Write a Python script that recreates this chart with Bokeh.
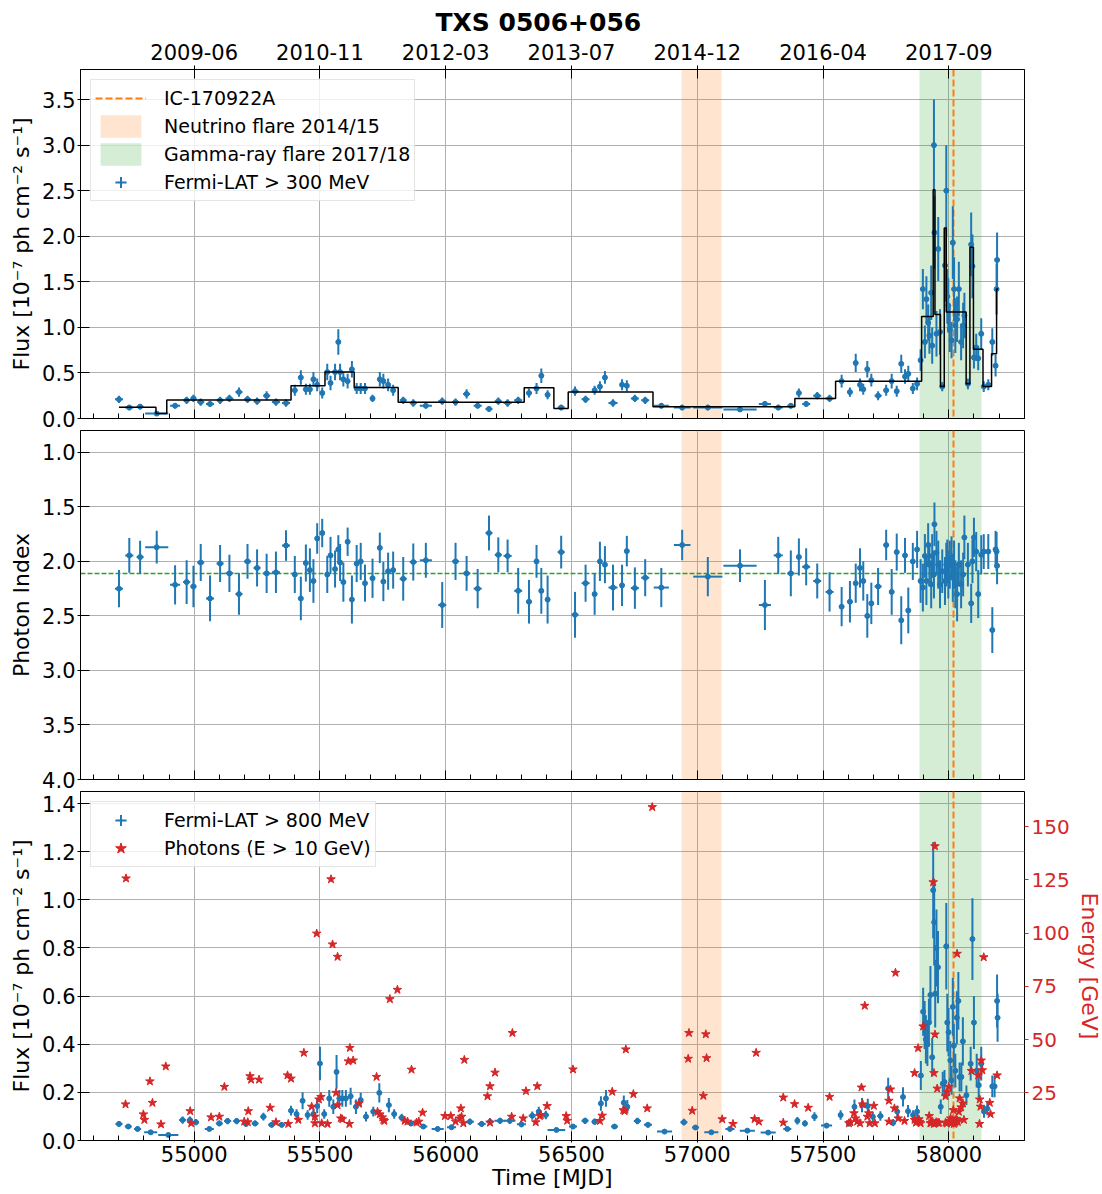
import numpy as np
from bokeh.plotting import figure
from bokeh.models import (Range1d, LinearAxis, FixedTicker, SingleIntervalTicker,
                          PrintfTickFormatter, Legend, LegendItem, ColumnDataSource)
from bokeh.layouts import column
from bokeh.embed import file_html
from bokeh.resources import INLINE

FONT = "DejaVu Sans"
BLUE = "#1f77b4"; ORANGE = "#ff7f0e"; GREEN = "#2ca02c"; RED = "#d62728"

# ---------------- data ----------------
title = "TXS 0506+056"
x_ticks = [55000, 55500, 56000, 56500, 57000, 57500, 58000]
date_labels = ["2009-06", "2010-11", "2012-03", "2013-07", "2014-12", "2016-04", "2017-09"]
neutrino_flare = [56937.81, 57096.21]
gamma_flare = [57884.0, 58130.0]
ic_event = 58018.87
mean_index = 2.11

mjd_300 = [54701,54742,54785,54851,54924,54970,54997,55026,55063,55103,
           55140,55178,55212,55250,55288,55325,55365,55400,55424,55444,
           55460,55474,55489,55509,55529,55542,55560,55573,55580,55593,
           55610,55627,55646,55662,55679,55709,55738,55752,55771,55791,
           55831,55871,55921,55986,56039,56083,56127,56172,56209,56246,
           56288,56331,56361,56380,56405,
           56459,56514,56556,56592,56613,56633,56665,56701,56720,56752,
           56793,56857,56940,57042,57170,57269,57322,57372,57404,57433,
           57477,57526,57574,57607,57630,57647,57660,57676,57692,57719,
           57751,57773,57793,57811,57826,57839,57857,57874,
           57888,57897,57905,57911,57918,57923,57930,57934,57941,57943,
           57951,57958,57965,57974,57985,57990,57994,57998,58004,58011,
           58016,58021,58026,58033,58040,58049,58057,58062,58076,58089,
           58094,58100,58109,58117,58129,58139,58157,58173,58186,58190,
           58192]
xerr_300 = [16,16,14,46,20,14,12,14,16,14, 16,14,14,14,14,16,16,10,8,8,
            8,6,8,8,5,5,5,4,4,6, 6,5,8,8,8,10,6,6,6,8,
            14,14,24,16,14,14,16,14,14,16, 16,12,10,8,10,
            14,14,16,10,8,8,18,8,8,16, 16,30,33,58,66,24,18,14,6,16,
            16,16,10,10,4,5,6,5,6,14, 10,5,6,4,4,4,6,5,
            3,3,3,3,3,3,3,3,3,3, 3,3,3,4,3,3,3,3,3,3,
            3,3,3,3,3,3,3,3,4,3, 3,3,3,3,3,4,4,3,3,3, 3]
flux_300 = [0.21,0.12,0.13,0.054,0.14,0.20,0.22,0.18,0.16,0.20,
            0.22,0.29,0.21,0.19,0.25,0.18,0.17,0.31,0.45,0.32,
            0.32,0.43,0.37,0.28,0.51,0.39,0.51,0.84,0.51,0.43,
            0.41,0.54,0.33,0.33,0.33,0.22,0.43,0.41,0.37,0.31,
            0.20,0.17,0.14,0.19,0.18,0.27,0.14,0.105,0.19,0.17,
            0.20,0.28,0.33,0.47,0.26,
            0.12,0.30,0.21,0.31,0.35,0.45,0.17,0.37,0.36,0.22,
            0.20,0.14,0.12,0.12,0.10,0.16,0.12,0.14,0.28,0.16,
            0.25,0.22,0.41,0.29,0.61,0.37,0.32,0.54,0.42,0.25,
            0.31,0.41,0.30,0.60,0.46,0.49,0.33,0.38,
            0.64,1.42,0.84,1.31,1.05,0.91,1.38,0.80,3.00,2.04,
            0.93,1.86,0.95,0.35,1.68,2.50,1.34,1.24,0.98,0.86,
            1.93,1.42,1.02,1.09,1.42,0.84,1.02,1.13,0.38,1.91,
            1.67,0.67,0.78,0.66,0.93,0.35,0.37,0.84,0.58,1.42,
            1.74]
ferr_300 = [0.04,0.03,0.03,0.02,0.03,0.04,0.04,0.04,0.03,0.04,
            0.04,0.05,0.04,0.04,0.05,0.04,0.04,0.06,0.08,0.06,
            0.06,0.08,0.07,0.06,0.09,0.08,0.09,0.14,0.09,0.08,
            0.08,0.09,0.06,0.06,0.06,0.04,0.08,0.08,0.07,0.06,
            0.04,0.04,0.03,0.04,0.04,0.05,0.03,0.03,0.04,0.04,
            0.04,0.05,0.06,0.08,0.05,
            0.03,0.05,0.04,0.05,0.06,0.07,0.04,0.06,0.06,0.04,
            0.04,0.03,0.03,0.03,0.02,0.03,0.03,0.03,0.05,0.03,
            0.04,0.04,0.07,0.05,0.10,0.07,0.06,0.09,0.07,0.05,
            0.06,0.08,0.06,0.10,0.08,0.09,0.06,0.07,
            0.12,0.22,0.18,0.25,0.20,0.20,0.30,0.20,0.50,0.40,
            0.25,0.35,0.25,0.05,0.40,0.50,0.30,0.30,0.25,0.20,
            0.40,0.35,0.30,0.25,0.30,0.20,0.25,0.25,0.06,0.35,
            0.35,0.12,0.15,0.13,0.17,0.06,0.06,0.15,0.12,0.28,
            0.30]
index_300 = [2.25,1.945,1.96,1.87,2.215,2.19,2.23,2.01,2.34,2.02,
             2.11,2.30,2.0,2.06,2.11,2.10,1.855,2.12,2.34,2.015,
             2.08,2.18,1.79,1.74,2.12,1.945,2.07,1.89,2.01,2.19,
             1.82,2.35,2.02,2.0,2.2,2.155,1.876,2.185,2.09,2.08,
             2.16,2.006,1.99,2.40,2.0,2.11,2.25,1.74,1.94,1.95,
             2.27,2.37,2.0,2.27,2.35,
             1.915,2.49,2.2,2.30,2.0,2.03,2.24,2.22,1.906,2.245,
             2.15,2.24,1.85,2.14,2.04,2.40,1.945,2.11,1.96,2.05,
             2.18,2.28,2.415,2.37,2.2,2.06,2.18,2.5,2.385,2.23,
             1.85,2.28,1.915,2.54,1.945,2.45,2.0,1.89,
             2.18,2.24,1.95,2.18,1.85,2.03,2.21,1.95,2.12,1.66,
             1.92,2.03,2.21,2.09,2.18,2.03,2.0,2.12,2.03,1.97,
             2.15,2.03,2.21,2.3,2.03,2.21,2.12,1.78,2.03,2.385,
             2.0,1.78,1.91,2.3,1.94,1.91,1.91,2.63,1.89,1.91,
             2.04]
ierr_300 = [0.17,0.16,0.15,0.15,0.18,0.2,0.19,0.17,0.21,0.17,
            0.17,0.19,0.16,0.17,0.18,0.19,0.14,0.17,0.2,0.17,
            0.2,0.2,0.14,0.13,0.17,0.17,0.17,0.13,0.17,0.18,
            0.13,0.22,0.17,0.17,0.17,0.18,0.14,0.18,0.17,0.17,
            0.2,0.17,0.16,0.21,0.17,0.16,0.18,0.16,0.16,0.15,
            0.21,0.2,0.15,0.21,0.22,
            0.15,0.21,0.17,0.19,0.18,0.17,0.21,0.19,0.14,0.19,
            0.17,0.18,0.14,0.18,0.15,0.23,0.17,0.21,0.17,0.17,
            0.16,0.18,0.18,0.19,0.18,0.18,0.18,0.2,0.19,0.17,
            0.14,0.21,0.17,0.22,0.16,0.21,0.17,0.17,
            0.2,0.22,0.2,0.22,0.2,0.2,0.22,0.2,0.22,0.2,
            0.2,0.22,0.22,0.2,0.22,0.2,0.2,0.22,0.22,0.2,
            0.22,0.22,0.22,0.25,0.2,0.22,0.2,0.2,0.2,0.18,
            0.2,0.18,0.18,0.22,0.18,0.16,0.16,0.21,0.17,0.18,
            0.17]

bb_edges = [54701,54848,54891,55385,55520,55636,55811,56312,56430,56487,56824,
            57388,57550,57892,57938,57945,57967,57982,57990,58069,58084,58098,
            58136,58170,58190,58196]
bb_flux = [0.123,0.054,0.203,0.36,0.51,0.34,0.178,0.337,0.11,0.29,0.13,0.22,
           0.41,1.12,2.51,1.14,0.35,2.09,1.17,0.38,1.88,0.76,0.35,0.71,1.42]

mjd_800 = [54701,54738,54775,54827,54897,54954,54983,55007,55060,55100,
           55133,55169,55206,55242,55275,55308,55348,55385,55407,55431,
           55451,55474,55489,55500,55517,55537,55553,55566,55577,55589,
           55603,55622,55643,55662,55683,55712,55736,55774,55795,55825,
           55862,55911,55968,56023,56096,56143,56176,56216,56255,56301,
           56344,56370,56398,
           56440,56506,56554,56592,56617,56637,56671,56708,56722,56762,
           56804,56870,56947,56993,57056,57130,57199,57282,57358,57398,
           57428,57466,57514,57570,57603,57625,57655,57678,57698,57728,
           57759,57779,57795,57818,57838,57858,57874,
           57889,57898,57904,57909,57915,57921,57927,57934,57938,57942,
           57946,57951,57957,57968,57976,57983,57990,57994,57999,58006,
           58011,58016,58020,58026,58032,58038,58043,58050,58056,58070,
           58087,58094,58100,58111,58119,58129,58140,58153,58173,58182,
           58192,58194]
xerr_800 = [14,14,14,26,40,14,12,12,18,14, 14,14,14,14,12,14,14,10,8,6,
            8,6,6,4,8,5,6,4,4,4, 5,6,8,8,10,10,6,8,8,12,
            14,16,24,18,16,16,14,22,22,18, 14,10,12,
            35,16,14,12,6,6,14,6,6,14, 16,30,14,14,28,18,30,30,16,6,
            10,12,22,10,10,5,5,6,10,12, 5,6,6,5,5,6,6,
            4,3,3,3,3,3,3,3,3,3, 3,3,3,4,3,3,3,3,3,3,
            3,3,3,3,3,3,3,3,3,4, 3,3,3,3,3,3,5,5,4,4, 3,3]
flux_800 = [0.069,0.058,0.048,0.034,0.023,0.085,0.085,0.076,0.048,0.071,
            0.081,0.081,0.069,0.071,0.099,0.065,0.065,0.124,0.11,0.165,
            0.106,0.11,0.143,0.32,0.11,0.175,0.14,0.285,0.175,0.175,
            0.175,0.184,0.14,0.168,0.099,0.12,0.198,0.147,0.11,0.095,
            0.071,0.058,0.048,0.055,0.078,0.069,0.078,0.082,0.082,0.067,
            0.103,0.12,0.106,
            0.044,0.058,0.082,0.078,0.154,0.175,0.058,0.157,0.14,0.081,
            0.065,0.037,0.076,0.054,0.034,0.048,0.041,0.033,0.048,0.082,
            0.071,0.099,0.062,0.106,0.071,0.14,0.147,0.143,0.099,0.102,
            0.216,0.074,0.12,0.181,0.122,0.106,0.12,
            0.27,0.535,0.48,0.42,0.40,0.49,0.605,0.346,1.04,0.907,
            0.61,0.80,0.72,0.14,0.236,0.243,0.807,0.49,0.45,0.333,
            0.25,0.555,0.394,0.29,0.51,0.58,0.264,0.264,0.412,0.188,
            0.319,0.837,0.49,0.29,0.23,0.319,0.12,0.133,0.225,0.225,
            0.58,0.51]
ferr_800 = [0.012,0.01,0.01,0.008,0.006,0.015,0.015,0.013,0.01,0.012,
            0.013,0.013,0.012,0.012,0.016,0.011,0.011,0.02,0.02,0.035,
            0.02,0.02,0.03,0.07,0.02,0.035,0.03,0.07,0.035,0.035,
            0.035,0.035,0.03,0.03,0.02,0.02,0.04,0.03,0.02,0.016,
            0.012,0.01,0.01,0.01,0.013,0.012,0.013,0.013,0.013,0.012,
            0.017,0.02,0.018,
            0.008,0.01,0.013,0.013,0.03,0.035,0.01,0.03,0.028,0.014,
            0.011,0.007,0.014,0.01,0.007,0.009,0.008,0.007,0.009,0.016,
            0.013,0.018,0.011,0.02,0.013,0.03,0.03,0.03,0.02,0.02,
            0.045,0.015,0.025,0.04,0.025,0.02,0.025,
            0.06,0.1,0.1,0.1,0.09,0.1,0.12,0.08,0.2,0.18,
            0.14,0.16,0.15,0.03,0.05,0.05,0.18,0.12,0.1,0.08,
            0.06,0.12,0.09,0.07,0.11,0.12,0.06,0.06,0.1,0.04,
            0.07,0.17,0.11,0.07,0.05,0.07,0.025,0.028,0.045,0.045,
            0.11,0.1]

photon_mjd = [54729,54727,54798,54802,54824,54834,54868,54887,54984,54988,
              55067,55100,55120,55199,55213,55215,55222,55226,55258,55302,
              55325,55371,55385,55374,55414,55436,55467,55480,55480,55487,
              55496,55504,55507,55530,55544,55550,55564,55570,55570,55583,
              55589,55617,55619,55613,55632,55655,55725,55729,55738,55748,
              55752,55756,55778,55808,55837,55848,55864,55884,55893,55908,
              55997,56020,56039,56060,56056,56063,56070,56074,56166,56176,
              56176,56196,56262,56265,56308,56319,56358,56364,56374,56378,
              56403,
              56479,56483,56506,56613,56622,56662,56706,56711,56716,
              56746,56801,56821,56967,56964,56980,57024,57034,57037,57099,
              57142,57228,57234,57245,57342,57342,57387,57441,57526,57603,
              57609,57623,57629,57636,57647,57653,57658,57666,57676,57682,
              57685,57702,57706,57762,57762,57768,57784,57788,57799,57824,
              57864,57864,57872,57878,57881,57888,57898,57922,57927,57938,
              57941,57945,57945,57941,57954,57947,57961,57987,57994,58000,
              57987,58007,58010,58018,58020,58027,58033,58033,58040,58043,
              58049,58056,58060,58090,58117,58122,58123,58126,58129,58133,
              58139,58163,58166,58192,
              57870,57876,57884,57930,57935,57950,57957,57992,58003,58014,
              58024,58030,58036]
photon_energy = [125.7,19.6,14.9,12.3,30.4,20.3,10.2,37.4,16.4,10.7,
                 13.5,13.8,27.8,11.5,11.2,16.4,32.8,31.2,31.2,18.0,
                 11.2,33.2,31.7,10.4,12.3,43.8,18.5,13.8,10.7,99.8,
                 21.9,23.1,10.7,10.4,125.3,94.7,25.0,88.9,19.2,13.0,
                 12.6,10.4,46.1,39.8,40.2,20.0,32.5,16.1,14.9,13.5,
                 12.3,11.8,69.0,73.4,11.9,11.5,35.9,11.0,11.5,15.7,
                 14.1,14.1,11.5,17.7,13.0,13.8,10.7,40.5,23.4,28.1,
                 11.0,34.5,13.8,53.1,13.0,25.8,11.2,28.1,14.1,14.6,
                 18.8,
                 14.1,11.9,36.0,11.8,14.3,25.5,16.9,16.4,45.4,
                 24.4,17.7,159.2,53.1,41.0,16.6,23.6,52.5,41.3,12.6,
                 10.4,12.7,43.8,11.5,22.8,11.0,19.7,18.0,23.1,10.7,
                 11.2,15.4,13.0,11.5,10.7,27.5,19.6,65.9,13.8,15.4,
                 10.7,18.9,10.7,11.5,21.3,26.6,17.7,81.4,13.0,11.8,
                 34.3,12.3,11.5,46.0,12.6,10.7,56.2,14.1,10.7,123.9,
                 10.4,140.8,52.4,34.3,27.0,10.7,11.0,23.4,25.5,27.8,
                 11.0,13.0,10.7,16.9,10.4,11.5,90.3,11.9,16.1,22.4,
                 18.2,20.0,12.3,35.3,33.2,10.4,21.9,18.5,40.2,35.6,
                 88.7,20.3,15.0,33.2,
                 11.0,12.0,11.3,10.8,11.6,11.2,10.9,10.6,11.7,12.2,
                 10.9,12.8,11.3]

# ---------------- layout ----------------
FW, FH = 944, 349
BL, BR = 80, 77
GAP = 12
xr = Range1d(54548, 58301)


def style_axis(ax, labels=True, tin=9, tout=3):
    ax.major_tick_in = tin
    ax.major_tick_out = tout
    ax.minor_tick_in = 5
    ax.minor_tick_out = 0
    ax.axis_line_color = "black"
    ax.major_tick_line_color = "black"
    ax.minor_tick_line_color = "black"
    ax.major_label_text_font = FONT
    ax.major_label_text_font_size = "21px" if labels else "0px"
    ax.major_label_text_color = "black"
    ax.major_label_standoff = 2 if labels else 0
    ax.axis_label_text_font = FONT
    ax.axis_label_text_font_size = "22px"
    ax.axis_label_text_font_style = "normal"
    ax.axis_label_text_color = "black"
    ax.axis_label_standoff = 5


def make_fig(yr, top, bottom, xlabels):
    p = figure(frame_width=FW, frame_height=FH, x_range=xr, y_range=yr,
               output_backend="svg", toolbar_location=None,
               min_border_left=BL, min_border_right=BR,
               min_border_top=top, min_border_bottom=bottom,
               outline_line_color="black", outline_line_alpha=1.0,
               background_fill_color="white", border_fill_color="white")
    xt = SingleIntervalTicker(interval=500, num_minor_ticks=5)
    p.xaxis.ticker = xt
    p.xgrid.ticker = xt
    for g in (p.xgrid, p.ygrid):
        g.grid_line_color = "#b0b0b0"
        g.grid_line_width = 1
    style_axis(p.xaxis[0], labels=xlabels, tin=9, tout=2 if xlabels else 0)
    if not xlabels:
        p.xaxis[0].major_label_overrides = {t: "" for t in x_ticks}
    style_axis(p.yaxis[0])
    p.yaxis[0].minor_tick_line_color = None
    return p


def bands(p):
    rn = p.vstrip(x0=[neutrino_flare[0]], x1=[neutrino_flare[1]],
                  fill_color=ORANGE, fill_alpha=0.2, line_color=None)
    rg = p.vstrip(x0=[gamma_flare[0]], x1=[gamma_flare[1]],
                  fill_color=GREEN, fill_alpha=0.2, line_color=None)
    ri = p.vspan(x=[ic_event], line_color=ORANGE, line_width=2, line_dash="7 3")
    return rn, rg, ri


def errorbars(p, x, y, xe, ye):
    x = np.asarray(x, float); y = np.asarray(y, float)
    xe = np.asarray(xe, float); ye = np.asarray(ye, float)
    src = ColumnDataSource(dict(x=x, y=y, xl=x - xe, xh=x + xe, yl=y - ye, yh=y + ye))
    p.segment("xl", "y", "xh", "y", source=src, line_color=BLUE, line_width=2)
    p.segment("x", "yl", "x", "yh", source=src, line_color=BLUE, line_width=2)
    p.scatter("x", "y", source=src, size=5, fill_color=BLUE, line_color=BLUE)


def legend_cross(p):
    # legend-only glyphs (NaN position: never drawn in the plot area)
    r1 = p.scatter(x=[np.nan], y=[np.nan], marker="cross", size=18,
                   line_color=BLUE, line_width=2)
    r2 = p.scatter(x=[np.nan], y=[np.nan], marker="dot", size=18,
                   fill_color=BLUE, line_color=BLUE, line_width=2)
    return [r1, r2]


def make_legend(items):
    return Legend(items=items, location="top_left", margin=10, padding=4,
                  spacing=0, glyph_width=51, glyph_height=28, label_height=28,
                  label_standoff=18, label_text_font=FONT, label_text_font_size="19px",
                  label_text_color="black",
                  border_line_color="#cccccc", border_line_width=1,
                  background_fill_color="white", background_fill_alpha=0.8)


# ---- panel 1: flux > 300 MeV ----
p1 = make_fig(Range1d(0, 3.83), 69, GAP, False)
p1.yaxis.ticker = SingleIntervalTicker(interval=0.5, num_minor_ticks=0)
p1.ygrid.ticker = SingleIntervalTicker(interval=0.5, num_minor_ticks=0)
p1.yaxis.formatter = PrintfTickFormatter(format="%.1f")
p1.yaxis.axis_label = "Flux [10⁻⁷ ph cm⁻² s⁻¹]"
rn, rg, ri = bands(p1)
errorbars(p1, mjd_300, flux_300, xerr_300, ferr_300)
bx = []; by = []
for i, v in enumerate(bb_flux):
    bx += [bb_edges[i], bb_edges[i + 1]]
    by += [v, v]
p1.line(bx, by, line_color="black", line_width=1.5)
lc1 = legend_cross(p1)
p1.add_layout(make_legend([
    LegendItem(label="IC-170922A", renderers=[ri]),
    LegendItem(label="Neutrino flare 2014/15", renderers=[rn]),
    LegendItem(label="Gamma-ray flare 2017/18", renderers=[rg]),
    LegendItem(label="Fermi-LAT > 300 MeV", renderers=lc1),
]))
top_ax = LinearAxis(ticker=FixedTicker(ticks=x_ticks),
                    major_label_overrides={t: l for t, l in zip(x_ticks, date_labels)})
style_axis(top_ax, tin=9, tout=4)
top_ax.major_label_standoff = 6
top_ax.minor_tick_line_color = None
p1.add_layout(top_ax, "above")
p1.title.text = title
p1.title.align = "left"
p1.title.offset = 355
p1.title.standoff = 7
p1.title.text_color = "black"
p1.title.text_font = FONT
p1.title.text_font_size = "25px"
p1.title.text_font_style = "bold"

# ---- panel 2: photon index ----
p2 = make_fig(Range1d(4.0, 0.8), 0, GAP, False)
p2.yaxis.ticker = SingleIntervalTicker(interval=0.5, num_minor_ticks=0)
p2.ygrid.ticker = SingleIntervalTicker(interval=0.5, num_minor_ticks=0)
p2.yaxis.formatter = PrintfTickFormatter(format="%.1f")
p2.yaxis.axis_label = "Photon Index"
bands(p2)
p2.hspan(y=[mean_index], line_color=GREEN, line_width=1.5, line_dash="5 2")
errorbars(p2, mjd_300, index_300, xerr_300, ierr_300)

# ---- panel 3: flux > 800 MeV + photons ----
p3 = make_fig(Range1d(0, 1.45), 0, 6, True)
p3.yaxis.ticker = SingleIntervalTicker(interval=0.2, num_minor_ticks=0)
p3.ygrid.ticker = SingleIntervalTicker(interval=0.2, num_minor_ticks=0)
p3.yaxis.formatter = PrintfTickFormatter(format="%.1f")
p3.yaxis.axis_label = "Flux [10⁻⁷ ph cm⁻² s⁻¹]"
p3.xaxis.axis_label = "Time [MJD]"
p3.xaxis.major_label_standoff = 3
p3.xaxis.axis_label_standoff = 0
p3.extra_y_ranges = {"energy": Range1d(2.6, 166.5)}
eax = LinearAxis(y_range_name="energy", ticker=FixedTicker(ticks=[25, 50, 75, 100, 125, 150]),
                 axis_label="Energy [GeV]")
style_axis(eax, tin=0, tout=4)
eax.axis_line_color = None
eax.major_tick_line_color = RED
eax.minor_tick_line_color = None
eax.major_label_text_color = RED
eax.major_label_text_font_size = "20px"
eax.axis_label_text_color = RED
eax.major_label_standoff = 3
eax.axis_label_standoff = 4
p3.add_layout(eax, "right")
bands(p3)
errorbars(p3, mjd_800, flux_800, xerr_800, ferr_800)
rs = p3.scatter(photon_mjd, photon_energy, marker="star", size=9, fill_color=RED,
                line_color=RED, y_range_name="energy")
lc3 = legend_cross(p3)
p3.add_layout(make_legend([
    LegendItem(label="Fermi-LAT > 800 MeV", renderers=lc3),
    LegendItem(label="Photons (E > 10 GeV)", renderers=[rs]),
]))

layout = column(p1, p2, p3, spacing=0)
open("out.html", "w").write(file_html(layout, INLINE, title="TXS 0506+056"))
